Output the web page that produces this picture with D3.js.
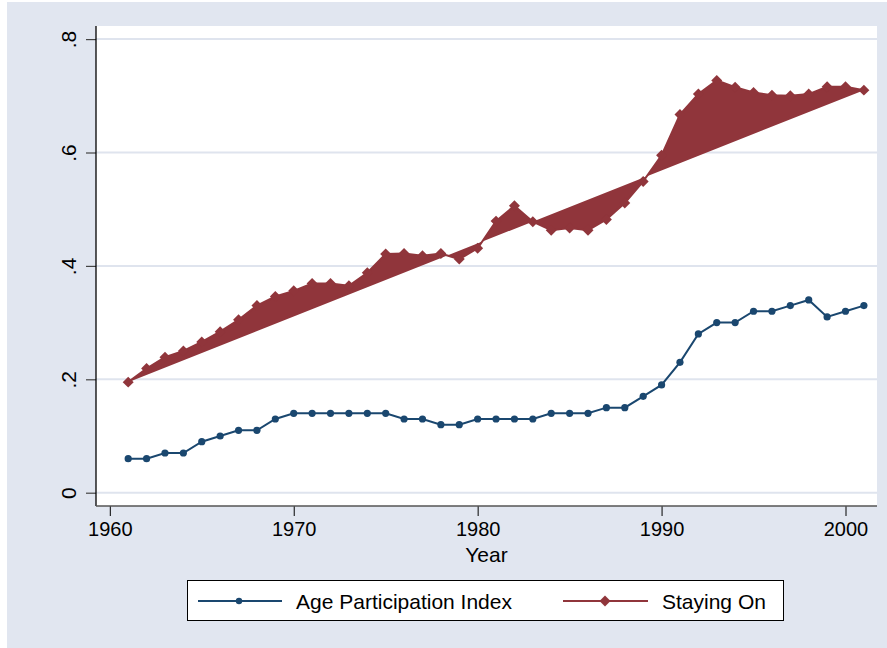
<!DOCTYPE html>
<html>
<head>
<meta charset="utf-8">
<script src="https://cdn.jsdelivr.net/npm/d3@7"></script>
<style>
  body { margin: 0; background: #ffffff; }
  text { font-family: "Liberation Sans", Arial, sans-serif; fill: #000; }
</style>
</head>
<body>
<div id="Data"></div>
<script>
// data
const years = d3.range(1961, 2002);
const ageParticipation = [
  0.06, 0.06, 0.07, 0.07, 0.09, 0.10, 0.11, 0.11, 0.13, 0.14,
  0.14, 0.14, 0.14, 0.14, 0.14, 0.13, 0.13, 0.12, 0.12, 0.13,
  0.13, 0.13, 0.13, 0.14, 0.14, 0.14, 0.15, 0.15, 0.17, 0.19,
  0.23, 0.28, 0.30, 0.30, 0.32, 0.32, 0.33, 0.34, 0.31, 0.32,
  0.33
];
const stayingOn = [
  0.195, 0.219, 0.239, 0.250, 0.266, 0.284, 0.305, 0.330, 0.346, 0.356,
  0.369, 0.369, 0.365, 0.388, 0.421, 0.422, 0.418, 0.422, 0.412, 0.431,
  0.479, 0.506, 0.478, 0.463, 0.467, 0.463, 0.482, 0.511, 0.549, 0.595,
  0.667, 0.703, 0.727, 0.715, 0.706, 0.701, 0.700, 0.703, 0.716, 0.716,
  0.710
];
const xTicks = [1960, 1970, 1980, 1990, 2000];
const yTicks = [0, 0.2, 0.4, 0.6, 0.8];
const yTickLabels = ["0", ".2", ".4", ".6", ".8"];
const seriesNames = ["Age Participation Index", "Staying On"];

const width = 887;
const height = 648;
const navy = "#1a476f";
const maroon = "#90353b";

const svg = d3.select("#Data")
              .append("svg")
              .attr("width", width)
              .attr("height", height);

// graph region
svg.append("rect")
   .attr("x", 7).attr("y", 2)
   .attr("width", width - 7).attr("height", height - 2)
   .attr("fill", "#e1e6f0");

// plot region
const plotLeft = 96, plotRight = 877, plotTop = 26, plotBottom = 506;
svg.append("rect")
   .attr("x", plotLeft).attr("y", plotTop)
   .attr("width", plotRight - plotLeft).attr("height", plotBottom - plotTop)
   .attr("fill", "#ffffff");

const xScale = d3.scaleLinear()
                 .domain([1960, 2000])
                 .range([109.8, 845.5]);
const yScale = d3.scaleLinear()
                 .domain([0, 0.8])
                 .range([492.7, 39.1]);

// gridlines
svg.append("g")
   .selectAll("line")
   .data(yTicks)
   .join("line")
   .attr("x1", plotLeft).attr("x2", plotRight)
   .attr("y1", d => yScale(d)).attr("y2", d => yScale(d))
   .attr("stroke", "#dfe4ee")
   .attr("stroke-width", 2);

// y axis
const yAxis = d3.axisLeft(yScale)
                .tickValues(yTicks)
                .tickFormat((d, i) => yTickLabels[i])
                .tickSize(10)
                .tickPadding(10);
const gy = svg.append("g")
   .attr("id", "y-axis")
   .attr("transform", `translate(${plotLeft}, 0)`)
   .call(yAxis);
gy.select(".domain").remove();
gy.selectAll(".tick line").attr("stroke", "#444").attr("stroke-width", 1.2);
gy.selectAll(".tick text")
  .attr("font-size", 21)
  .attr("text-anchor", "middle")
  .attr("dy", 0)
  .attr("x", 0)
  .attr("transform", "translate(-20, 0) rotate(-90)");
svg.append("line")
   .attr("x1", plotLeft).attr("x2", plotLeft)
   .attr("y1", plotTop).attr("y2", plotBottom)
   .attr("stroke", "#000").attr("stroke-width", 1.3);

// x axis
const xAxis = d3.axisBottom(xScale)
                .tickValues(xTicks)
                .tickFormat(d3.format("d"))
                .tickSize(10)
                .tickPadding(6);
const gx = svg.append("g")
   .attr("id", "x-axis")
   .attr("transform", `translate(0, ${plotBottom})`)
   .call(xAxis);
gx.select(".domain").remove();
gx.selectAll(".tick line").attr("stroke", "#000").attr("stroke-width", 1);
gx.selectAll(".tick text").attr("font-size", 20);
svg.append("line")
   .attr("x1", plotLeft).attr("x2", plotRight)
   .attr("y1", plotBottom).attr("y2", plotBottom)
   .attr("stroke", "#555").attr("stroke-width", 1.5);

svg.append("text")
   .attr("x", (plotLeft + plotRight) / 2)
   .attr("y", 562)
   .attr("text-anchor", "middle")
   .attr("font-size", 21)
   .text("Year");

// line function
const line = d3.line()
    .x((d, i) => xScale(years[i]))
    .y(d => yScale(d));

// Staying On: line with its fill closed back to the first point
svg.append("path")
   .datum(stayingOn)
   .attr("d", line)
   .attr("fill", maroon)
   .attr("stroke", maroon)
   .attr("stroke-width", 2);

const diamond = d3.symbol().type(d3.symbolSquare).size(60);
svg.append("g")
   .selectAll("path")
   .data(stayingOn)
   .join("path")
   .attr("d", diamond)
   .attr("transform", (d, i) => `translate(${xScale(years[i])}, ${yScale(d)}) rotate(45)`)
   .attr("fill", maroon);

// Age Participation Index
svg.append("path")
   .datum(ageParticipation)
   .attr("d", line)
   .attr("fill", "none")
   .attr("stroke", navy)
   .attr("stroke-width", 2);

svg.append("g")
   .selectAll("circle")
   .data(ageParticipation)
   .join("circle")
   .attr("cx", (d, i) => xScale(years[i]))
   .attr("cy", d => yScale(d))
   .attr("r", 3.6)
   .attr("fill", navy);

// legend
svg.append("rect")
   .attr("x", 187.5).attr("y", 580.5)
   .attr("width", 596).attr("height", 40)
   .attr("fill", "#fff")
   .attr("stroke", "#000").attr("stroke-width", 1);

const legendItems = [
  { x1: 198, x2: 282, mx: 239, tx: 296, color: navy, name: seriesNames[0], circle: true },
  { x1: 563, x2: 648, mx: 605, tx: 662, color: maroon, name: seriesNames[1], circle: false }
];
legendItems.forEach(item => {
  svg.append("line")
     .attr("x1", item.x1).attr("x2", item.x2)
     .attr("y1", 601).attr("y2", 601)
     .attr("stroke", item.color).attr("stroke-width", 2.2);
  if (item.circle) {
    svg.append("circle")
       .attr("cx", item.mx).attr("cy", 601).attr("r", 3.2)
       .attr("fill", item.color);
  } else {
    svg.append("path")
       .attr("d", diamond)
       .attr("transform", `translate(${item.mx}, 601) rotate(45)`)
       .attr("fill", item.color);
  }
  svg.append("text")
     .attr("x", item.tx).attr("y", 609)
     .attr("font-size", 21)
     .text(item.name);
});
</script>
</body>
</html>
